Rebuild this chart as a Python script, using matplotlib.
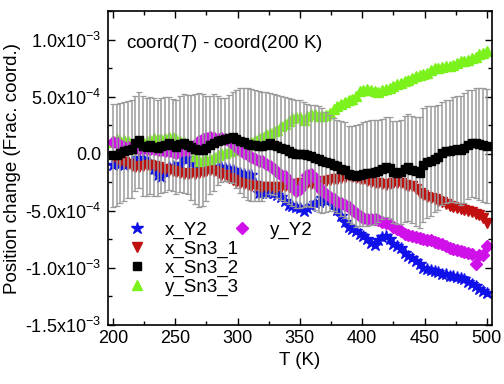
import numpy as np
import matplotlib
matplotlib.use("Agg")
import matplotlib.pyplot as plt
from matplotlib.ticker import FixedLocator, FixedFormatter, MultipleLocator

plt.rcParams['font.family'] = ['Liberation Sans', 'DejaVu Sans']
plt.rcParams['mathtext.fontset'] = 'custom'
plt.rcParams['mathtext.rm'] = 'Liberation Sans'
plt.rcParams['mathtext.it'] = 'Liberation Sans:italic'

# temperature grid (K), every 3 K
T = np.arange(200, 501, 3)

# position change, in units of 1e-4 (frac. coord.)
x_Y2 = [-0.95, -0.8, -0.9, -1.0, -0.85, -0.75, -0.6, -0.35, -0.5, -0.7,
        -0.9, -1.3, -1.9, -2.05, -1.6, -1.2, -1.1, -1.3, -0.9, -0.5,
        -0.35, -0.8, -1.1, -1.25, -1.3, -1.2, -1.25, -1.15, -1.2, -1.2,
        -1.25, -1.3, -1.45, -1.6, -1.7, -1.75, -1.85, -1.9, -2.6, -3.4,
        -3.45, -3.4, -3.35, -3.45, -3.6, -3.8, -4.1, -4.45, -4.55, -4.7,
        -4.8, -5.0, -4.8, -4.6, -4.35, -4.2, -3.9, -4.1, -4.0, -4.4,
        -4.9, -5.5, -6.0, -6.4, -6.6, -6.8, -7.0, -7.2, -7.5, -7.8,
        -8.0, -7.6, -7.3, -7.2, -7.5, -7.9, -8.1, -8.3, -8.7, -9.0,
        -9.1, -9.4, -9.7, -10.0, -10.1, -10.2, -10.3, -10.4, -10.5, -10.55,
        -10.7, -10.75, -10.8, -10.9, -11.0, -11.2, -11.4, -11.6, -11.85, -12.0,
        -12.2]

x_Sn3_1 = [-0.3, -0.45, -0.6, -0.75, -0.9, -1.05, -1.2, -1.15, -1.05, -1.0,
           -1.0, -1.1, -1.2, -1.3, -1.35, -1.45, -1.55, -1.6, -1.7, -1.75,
           -1.75, -1.7, -1.75, -1.7, -1.6, -1.5, -1.45, -1.55, -1.7, -1.85,
           -1.9, -2.1, -2.3, -2.45, -2.55, -2.65, -2.75, -2.8, -2.85, -2.9,
           -2.9, -2.95, -2.9, -3.0, -2.95, -2.9, -2.85, -2.9, -2.75, -2.65,
           -2.6, -2.55, -2.6, -2.65, -2.55, -2.45, -2.4, -2.35, -2.3, -2.25,
           -2.25, -2.1, -2.0, -1.95, -2.0, -2.1, -2.2, -2.25, -2.35, -2.45,
           -2.55, -2.6, -2.65, -2.7, -2.65, -2.6, -2.55, -2.6, -2.7, -2.8,
           -2.85, -3.1, -3.4, -3.6, -3.75, -3.9, -4.0, -4.15, -4.25, -4.4,
           -4.6, -4.7, -4.75, -4.85, -4.9, -5.0, -5.1, -5.25, -5.4, -5.6,
           -6.05]

x_Sn3_2 = [-0.15, -0.1, 0.05, 0.2, 0.35, 0.45, 0.9, 1.2, 0.7, 0.6,
           0.75, 0.6, 0.5, 0.7, 0.8, 0.9, 0.75, 0.6, 0.85, 0.9,
           0.8, 0.55, 0.4, 0.3, 0.35, 0.5, 0.75, 0.95, 1.15, 1.2,
           1.25, 1.35, 1.45, 1.3, 1.15, 1.0, 0.85, 0.75, 0.75, 0.7,
           0.65, 0.8, 0.9, 0.8, 0.65, 0.5, 0.4, 0.25, 0.1, 0.0,
           -0.05, -0.05, -0.1, -0.2, -0.35, -0.5, -0.6, -0.7, -0.8, -0.95,
           -1.1, -1.3, -1.45, -1.75, -1.85, -1.95, -1.85, -1.8, -1.7, -1.65,
           -1.6, -1.5, -1.35, -1.15, -1.25, -1.6, -1.65, -1.6, -1.3, -1.2,
           -1.4, -1.55, -1.65, -1.0, -0.75, -0.65, -0.45, -0.3, 0.05, 0.2,
           0.25, 0.35, 0.4, 0.3, 0.5, 0.8, 0.9, 0.95, 0.85, 0.75,
           0.65]

x_Sn3_2_err = [4.55, 4.5, 4.4, 4.3, 4.25, 4.3, 4.2, 4.2, 4.4, 4.3,
               4.25, 4.3, 4.2, 4.15, 4.15, 4.1, 4.05, 4.1, 4.2, 4.3,
               4.35, 4.6, 4.8, 5.0, 4.9, 4.6, 4.3, 4.25, 3.9, 3.7,
               3.6, 3.8, 4.0, 4.3, 4.6, 4.8, 4.9, 4.9, 4.85, 4.8,
               4.8, 4.6, 4.4, 4.4, 4.5, 4.55, 4.6, 4.65, 4.7, 4.75,
               4.75, 4.6, 4.5, 4.5, 4.6, 4.65, 4.6, 4.4, 4.2, 4.1,
               4.1, 4.15, 4.2, 4.2, 4.3, 4.5, 4.5, 4.55, 4.6, 4.6,
               4.6, 4.5, 4.4, 4.4, 4.45, 4.5, 4.5, 4.6, 4.65, 4.7,
               4.7, 4.8, 4.9, 5.0, 4.9, 4.8, 4.65, 4.6, 4.5, 4.5,
               4.5, 4.6, 4.7, 4.8, 4.8, 4.75, 4.7, 4.8, 4.9, 5.0,
               5.0]

y_Sn3_3 = [1.0, 1.3, 1.15, 1.2, 1.1, 0.8, 0.45, 0.5, 0.9, 1.1,
           1.2, 1.35, 1.3, 1.25, 1.35, 1.5, 1.45, 1.3, 1.15, 1.0,
           0.8, 0.4, -0.2, -0.6, -0.55, -0.5, -0.45, -0.3, -0.1, 0.05,
           0.1, 0.2, 0.3, 0.4, 0.35, 0.5, 0.8, 1.0, 1.2, 1.4,
           1.5, 1.7, 1.8, 1.95, 2.1, 2.4, 2.65, 2.9, 3.1, 3.25,
           3.25, 3.0, 3.3, 3.5, 3.45, 3.35, 3.3, 3.4, 3.6, 3.9,
           4.2, 4.4, 4.55, 4.7, 4.8, 5.1, 5.5, 5.6, 5.7, 5.6,
           5.5, 5.4, 5.55, 5.7, 5.8, 5.95, 6.1, 6.2, 6.35, 6.5,
           6.65, 6.8, 6.9, 6.95, 7.1, 7.3, 7.5, 7.55, 7.6, 7.7,
           7.7, 7.8, 7.95, 8.1, 8.15, 8.25, 8.4, 8.5, 8.7, 8.85,
           9.0]

y_Y2 = [1.0, 0.95, 0.8, 0.6, 0.55, 0.6, 0.5, 0.45, 0.5, 0.45,
        0.45, 0.4, 0.35, 0.3, 0.25, 0.2, 0.15, 0.1, 0.2, 0.3,
        0.3, 0.5, 0.8, 1.1, 1.3, 1.4, 1.45, 1.35, 1.3, 1.35,
        1.3, 1.15, 0.9, 0.6, 0.35, 0.1, -0.1, -0.25, -0.45, -0.6,
        -0.6, -0.9, -1.1, -1.3, -1.6, -1.85, -1.95, -2.4, -2.9, -3.3,
        -3.1, -2.5, -1.9, -1.75, -2.1, -2.9, -3.3, -3.5, -3.8, -4.0,
        -4.2, -4.35, -4.5, -4.7, -4.9, -5.2, -5.45, -5.6, -5.7, -5.75,
        -5.75, -5.8, -5.95, -6.05, -6.2, -6.4, -6.6, -6.8, -7.0, -7.15,
        -7.2, -7.3, -7.4, -7.5, -7.55, -7.6, -7.7, -7.8, -7.95, -8.1,
        -8.25, -8.35, -8.45, -8.55, -8.6, -8.7, -8.8, -9.65, -8.85, -8.9,
        -8.1]

ytick_vals = [-1.5e-3, -1.0e-3, -5.0e-4, 0.0, 5.0e-4, 1.0e-3]
ytick_labels = [r'-1.5x10$^{-3}$', r'-1.0x10$^{-3}$', r'-5.0x10$^{-4}$',
                '0.0', r'5.0x10$^{-4}$', r'1.0x10$^{-3}$']
xtick_vals = [200, 250, 300, 350, 400, 450, 500]

scale = 1e-4
fs = 13.5

fig = plt.figure(figsize=(5.04, 3.84), dpi=100)
ax = fig.add_axes([0.214, 0.154, 0.762, 0.817])

ms = 7
h_y2, = ax.plot(T, np.array(x_Y2) * scale, ls='none', marker='*', ms=ms + 2,
                color='#1010e8', mec='#1010e8', zorder=2, label='x_Y2')
h_s1, = ax.plot(T, np.array(x_Sn3_1) * scale, ls='none', marker='v', ms=ms,
                color='#c01010', zorder=2, label='x_Sn3_1')
h_g, = ax.plot(T, np.array(y_Sn3_3) * scale, ls='none', marker='^', ms=ms,
               color='#7cf21c', zorder=2, label='y_Sn3_3')
h_m, = ax.plot(T, np.array(y_Y2) * scale, ls='none', marker='D', ms=ms - 0.5,
               color='#d010e8', zorder=2, label='y_Y2')

# error bars belong to x_Sn3_2
eb = ax.errorbar(T, np.array(x_Sn3_2) * scale, yerr=np.array(x_Sn3_2_err) * scale,
                 fmt='none', ecolor='#9a9a9a', elinewidth=1.1, capsize=2.5,
                 capthick=0.9, zorder=3)
for cl in eb[1]:
    cl.set_color('#606060')
h_s2, = ax.plot(T, np.array(x_Sn3_2) * scale, ls='none', marker='s', ms=ms - 1,
                color='black', zorder=4, label='x_Sn3_2')

ax.set_xlim(196, 504)
ax.set_ylim(-1.5e-3, 1.25e-3)
ax.xaxis.set_major_locator(FixedLocator(xtick_vals))
ax.xaxis.set_minor_locator(MultipleLocator(25))
ax.yaxis.set_major_locator(FixedLocator(ytick_vals))
ax.yaxis.set_major_formatter(FixedFormatter(ytick_labels))
ax.yaxis.set_minor_locator(MultipleLocator(2.5e-4))
ax.tick_params(which='both', direction='in', top=True, right=True, labelsize=13)
ax.tick_params(axis='y', pad=5)
ax.tick_params(which='major', length=5, width=1)
ax.tick_params(which='minor', length=3, width=1)
for sp in ax.spines.values():
    sp.set_linewidth(1.2)

ax.set_xlabel('T (K)', fontsize=fs, labelpad=4)
ax.set_ylabel('Position change (Frac. coord.)', fontsize=fs, labelpad=3)

ax.text(0.047, 0.898, r'coord($\mathit{T}$) - coord(200 K)', transform=ax.transAxes,
        fontsize=fs, va='center', ha='left')

leg1 = ax.legend([h_y2, h_s1, h_s2, h_g], ['x_Y2', 'x_Sn3_1', 'x_Sn3_2', 'y_Sn3_3'],
                 loc='upper left', bbox_to_anchor=(0.051, 0.33), frameon=False,
                 fontsize=fs, handlelength=1.0, handletextpad=1.0,
                 labelspacing=0.1, borderpad=0, borderaxespad=0)
ax.add_artist(leg1)
ax.legend([h_m], ['y_Y2'], loc='upper left', bbox_to_anchor=(0.3245, 0.33),
          frameon=False, fontsize=fs, handlelength=1.0, handletextpad=1.0,
          borderpad=0, borderaxespad=0)

fig.savefig('out.png', dpi=100)
